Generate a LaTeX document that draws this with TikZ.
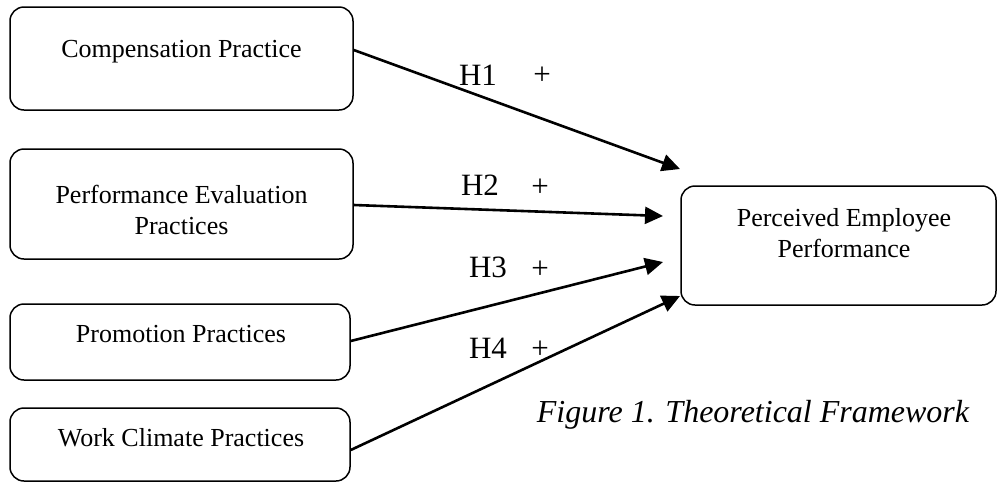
\documentclass[tikz,border=0pt]{standalone}
\usepackage{fontspec}
\setmainfont{Liberation Serif}
\usetikzlibrary{arrows.meta}

\begin{document}
\begin{tikzpicture}[x=1pt,y=-1pt,
  box/.style={draw,rounded corners=14pt,line width=1.5pt},
  txt/.style={align=center,font=\fontsize{26}{31}\selectfont},
  hyp/.style={font=\fontsize{31}{35}\selectfont},
  arr/.style={line width=2.6pt,-{Triangle[length=18pt,width=17pt]}}]
\useasboundingbox (0,0) rectangle (997,483);
% boxes
\node[box,minimum width=343pt,minimum height=103pt] (comp) at (181.5,58.5) {};
\node[box,minimum width=343pt,minimum height=110pt] (eval) at (181.5,204) {};
\node[box,minimum width=340pt,minimum height=76pt] (promo) at (180,342) {};
\node[box,minimum width=340pt,minimum height=73pt] (climate) at (180,444.5) {};
\node[box,minimum width=315pt,minimum height=119pt] (perc) at (838.5,245.5) {};
% box texts
\node[txt] (comp-t) at (181.5,52) {Compensation Practice};
\node[txt] (eval-t) at (181.5,210) {Performance Evaluation\\Practices};
\node[txt] (promo-t) at (181,334) {Promotion Practices};
\node[txt] (climate-t) at (181,438) {Work Climate Practices};
\node[txt] (perc-t) at (844,233) {Perceived Employee\\Performance};
% arrow ends
\coordinate (h1end) at (680,169);
\coordinate (h2end) at (663,216);
\coordinate (h3end) at (663,262);
\coordinate (h4end) at (680,296);
\draw[arr] (comp.east |- 0,50) -- (h1end);
\draw[arr] (eval.east |- 0,205) -- (h2end);
\draw[arr] (promo.east |- 0,341) -- (h3end);
\draw[arr] (climate.east |- 0,450) -- (h4end);
% hypotheses
\node[hyp] (h1) at (478,75) {H1};
\node[hyp] (p1) at (542,76) {+};
\node[hyp] (h2) at (480,185) {H2};
\node[hyp] (p2) at (540,188) {+};
\node[hyp] (h3) at (488,267) {H3};
\node[hyp] (p3) at (540,270) {+};
\node[hyp] (h4) at (488,348) {H4};
\node[hyp] (p4) at (540,350) {+};
% caption
\node[font=\fontsize{32}{36}\selectfont\itshape] (cap) at (753,415) {Figure 1. Theoretical Framework};
\end{tikzpicture}
\end{document}
